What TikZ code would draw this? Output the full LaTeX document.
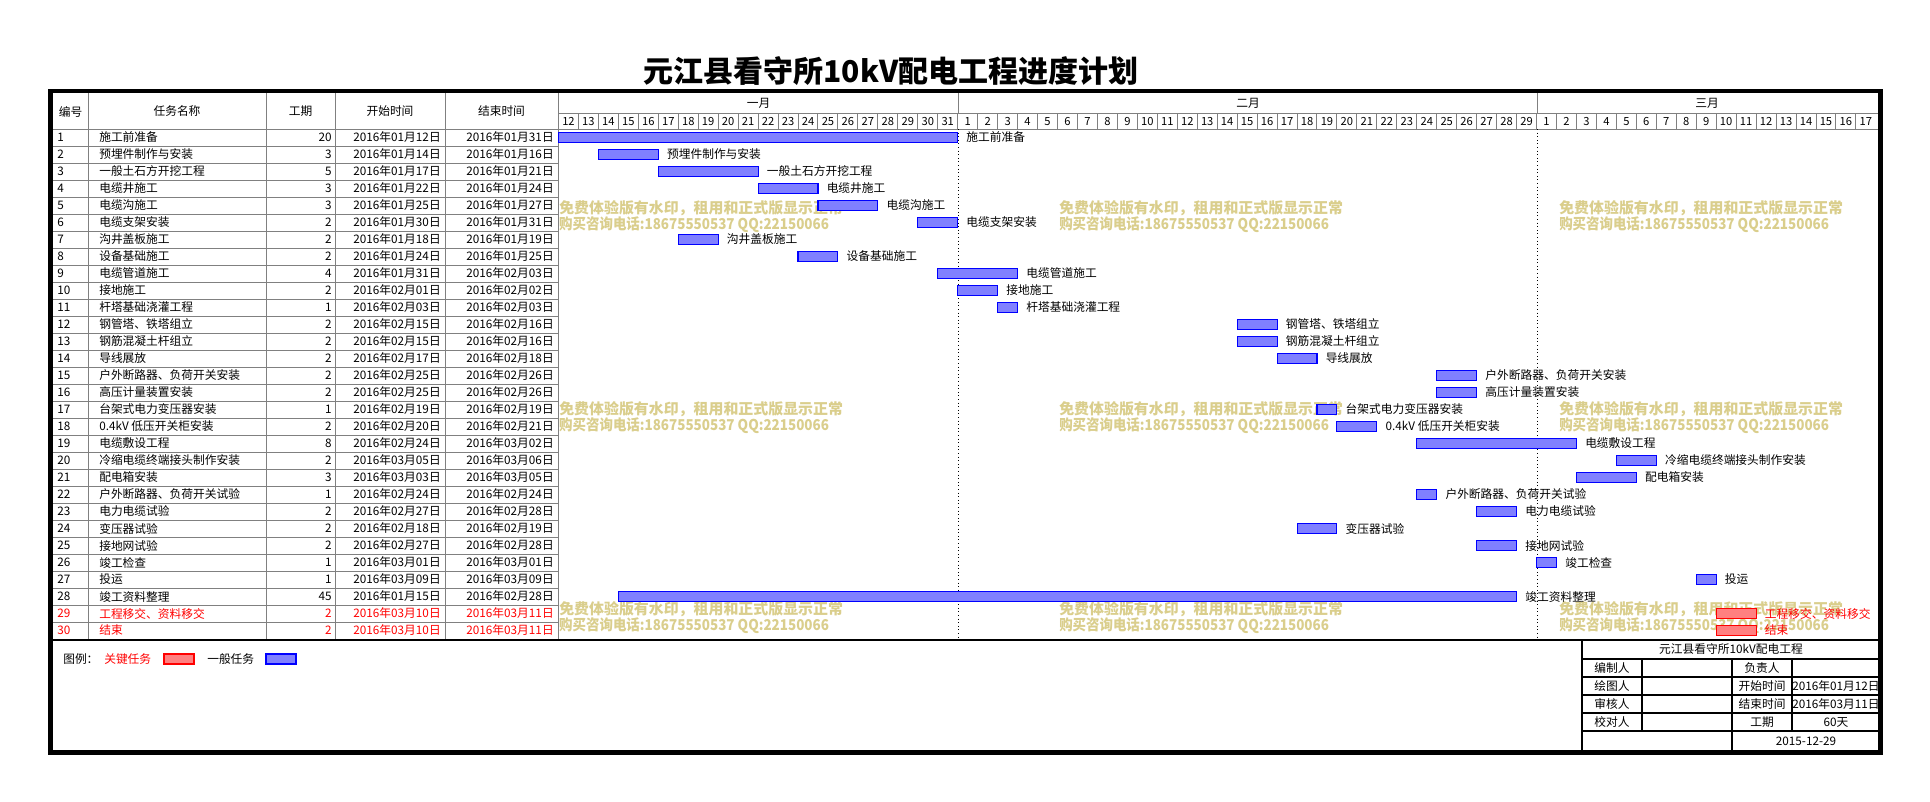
\documentclass[tikz,border=0pt]{standalone}
\usepackage{fontspec}
\setmainfont{Noto Sans CJK SC}
\usetikzlibrary{positioning}
\definecolor{wmark}{RGB}{218,206,140}
\definecolor{gridgray}{RGB}{128,128,128}
\tikzset{
	cell/.style={inner sep=0pt,font=\fontsize{8.8}{10}\selectfont},
	daycell/.style={inner sep=0pt,font=\fontsize{8.4}{10}\selectfont},
	txtn/.style={text=black},
	txtc/.style={text=red},
	barn/.style={draw=blue,fill=blue!50,line width=0.8pt},
	barc/.style={draw=red,fill=red!50,line width=0.8pt},
	gridline/.style={color=gridgray,line width=0.75pt},
	boxline/.style={color=black,line width=0.8pt},
	frame/.style={color=black,line width=3.4pt},
	monthline/.style={color=black,line width=0.7pt,dotted},
	wmk/.style={inner sep=0pt,anchor=west,text=wmark,font=\fontsize{11.2}{12}\selectfont\bfseries},
	wmknum/.style={wmk,transform shape,xscale=0.9}
}

\begin{document}
\begin{tikzpicture}[x=0.75pt,y=-0.75pt]
	\useasboundingbox[fill=white] (0,0) rectangle (1930,801);
	
	%%%% title
	\node[inner sep=0pt,font=\fontsize{22.5}{24}\selectfont\bfseries] (title) at (891,71) {元江县看守所10kV配电工程进度计划};
	
	%%%% watermark
	\foreach \wx in {559,1059,1559}
	\foreach \wy in {208,409,609}
	{
		\node[wmk] (wma\wx-\wy) at (\wx,\wy) {免费体验版有水印，租用和正式版显示正常};
		\node[wmknum] (wmb\wx-\wy) at (\wx,\wy+17) {购买咨询电话:18675550537 QQ:22150066};
	}
	
	%%%% table grid
	\foreach \r in {0,...,30}
		\draw[gridline] (53,{129+17*\r}) -- (558,{129+17*\r});
	\foreach \cx in {88,266,335,445,558}
		\draw[gridline] (\cx,93) -- (\cx,640);
	
	%%%% table header
	\node[cell] (hid) at (70.5,111.5) {编号};
	\node[cell] (hnm) at (177,111.5) {任务名称};
	\node[cell] (hdur) at (300.5,111.5) {工期};
	\node[cell] (hst) at (390,111.5) {开始时间};
	\node[cell] (hen) at (501.5,111.5) {结束时间};
	
	%%%% gantt header
	\draw[gridline] (558,113) -- (1878,113);
	\draw[gridline] (558,129) -- (1878,129);
	\foreach \k in {1,...,65}
		\draw[gridline] ({558.5+19.96*\k},113) -- ({558.5+19.96*\k},129);
	\draw[gridline] (958.7,93) -- (958.7,113);
	\draw[gridline] (1537.3,93) -- (1537.3,113);
	\node[cell] (jan) at (758.6,103) {一月};
	\node[cell] (feb) at (1248,103) {二月};
	\node[cell] (mar) at (1707,103) {三月};
	\foreach \d in {12,...,31}
		\node[daycell] (jan\d) at ({558.5+19.96*(\d-11.5)},121.5) {\d};
	\foreach \d in {1,...,29}
		\node[daycell] (feb\d) at ({558.5+19.96*(\d+19.5)},121.5) {\d};
	\foreach \d in {1,...,17}
		\node[daycell] (mar\d) at ({558.5+19.96*(\d+48.5)},121.5) {\d};
	\draw[monthline] (958.7,129) -- (958.7,640);
	\draw[monthline] (1537.3,129) -- (1537.3,640);
	
	%%%% tasks: no/name/days/start/end/first/last/kind
	\foreach \n/\task/\dur/\from/\to/\s/\e/\k in {
		1/施工前准备/20/2016年01月12日/2016年01月31日/0/19/n,
		2/预埋件制作与安装/3/2016年01月14日/2016年01月16日/2/4/n,
		3/一般土石方开挖工程/5/2016年01月17日/2016年01月21日/5/9/n,
		4/电缆井施工/3/2016年01月22日/2016年01月24日/10/12/n,
		5/电缆沟施工/3/2016年01月25日/2016年01月27日/13/15/n,
		6/电缆支架安装/2/2016年01月30日/2016年01月31日/18/19/n,
		7/沟井盖板施工/2/2016年01月18日/2016年01月19日/6/7/n,
		8/设备基础施工/2/2016年01月24日/2016年01月25日/12/13/n,
		9/电缆管道施工/4/2016年01月31日/2016年02月03日/19/22/n,
		10/接地施工/2/2016年02月01日/2016年02月02日/20/21/n,
		11/杆塔基础浇灌工程/1/2016年02月03日/2016年02月03日/22/22/n,
		12/钢管塔、铁塔组立/2/2016年02月15日/2016年02月16日/34/35/n,
		13/钢筋混凝土杆组立/2/2016年02月15日/2016年02月16日/34/35/n,
		14/导线展放/2/2016年02月17日/2016年02月18日/36/37/n,
		15/户外断路器、负荷开关安装/2/2016年02月25日/2016年02月26日/44/45/n,
		16/高压计量装置安装/2/2016年02月25日/2016年02月26日/44/45/n,
		17/台架式电力变压器安装/1/2016年02月19日/2016年02月19日/38/38/n,
		18/0.4kV 低压开关柜安装/2/2016年02月20日/2016年02月21日/39/40/n,
		19/电缆敷设工程/8/2016年02月24日/2016年03月02日/43/50/n,
		20/冷缩电缆终端接头制作安装/2/2016年03月05日/2016年03月06日/53/54/n,
		21/配电箱安装/3/2016年03月03日/2016年03月05日/51/53/n,
		22/户外断路器、负荷开关试验/1/2016年02月24日/2016年02月24日/43/43/n,
		23/电力电缆试验/2/2016年02月27日/2016年02月28日/46/47/n,
		24/变压器试验/2/2016年02月18日/2016年02月19日/37/38/n,
		25/接地网试验/2/2016年02月27日/2016年02月28日/46/47/n,
		26/竣工检查/1/2016年03月01日/2016年03月01日/49/49/n,
		27/投运/1/2016年03月09日/2016年03月09日/57/57/n,
		28/竣工资料整理/45/2016年01月15日/2016年02月28日/3/47/n,
		29/工程移交、资料移交/2/2016年03月10日/2016年03月11日/58/59/c,
		30/结束/2/2016年03月10日/2016年03月11日/58/59/c}
	{
		\pgfmathsetmacro\yc{129+17*(\n-1)+8.5}
		\node[cell,anchor=west,txt\k] (id\n) at (57,\yc) {\n};
		\node[cell,anchor=west,txt\k] (nm\n) at (99,\yc) {\task};
		\node[cell,anchor=east,txt\k] (dur\n) at (332,\yc) {\dur};
		\node[cell,anchor=east,txt\k] (st\n) at (441,\yc) {\from};
		\node[cell,anchor=east,txt\k] (en\n) at (554,\yc) {\to};
		\draw[bar\k] ({558.5+19.96*\s},{\yc-4.7}) rectangle ({558.5+19.96*(\e+1)},{\yc+4.7});
		\node[cell,anchor=west,txt\k] (lab\n) at ({558.5+19.96*(\e+1)+8.5},\yc) {\task};
	}
	\draw[boxline] (53,640) -- (1878,640);
	
	%%%% legend
	\node[cell,anchor=west] (leg) at (63,659) {图例：};
	\node[cell,anchor=west,txtc] (legc) at (104,659) {关键任务};
	\draw[barc] (164,654) rectangle (194,664);
	\node[cell,anchor=west] (legn) at (207,659) {一般任务};
	\draw[barn] (266,654) rectangle (296,664);
	
	%%%% info box
	\draw[boxline] (1582,640) -- (1582,752);
	\foreach \hy in {659,677,695,713,731}
		\draw[boxline] (1582,\hy) -- (1878,\hy);
	\draw[boxline] (1642,659) -- (1642,731);
	\draw[boxline] (1732,659) -- (1732,752);
	\draw[boxline] (1792,659) -- (1792,731);
	\node[cell] (ititle) at (1731,649.5) {元江县看守所10kV配电工程};
	\node[cell] (ia1) at (1612,668) {编制人};
	\node[cell] (ia2) at (1612,686) {绘图人};
	\node[cell] (ia3) at (1612,704) {审核人};
	\node[cell] (ia4) at (1612,722) {校对人};
	\node[cell] (ib1) at (1762,668) {负责人};
	\node[cell] (ib2) at (1762,686) {开始时间};
	\node[cell] (ib3) at (1762,704) {结束时间};
	\node[cell] (ib4) at (1762,722) {工期};
	\node[cell] (ic2) at (1836,686) {2016年01月12日};
	\node[cell] (ic3) at (1836,704) {2016年03月11日};
	\node[cell] (ic4) at (1836,722) {60天};
	\node[cell] (idate) at (1806,741.5) {2015-12-29};
	
	%%%% frame
	\draw[frame] (50.5,91) rectangle (1880.5,752.5);
\end{tikzpicture}
\end{document}
